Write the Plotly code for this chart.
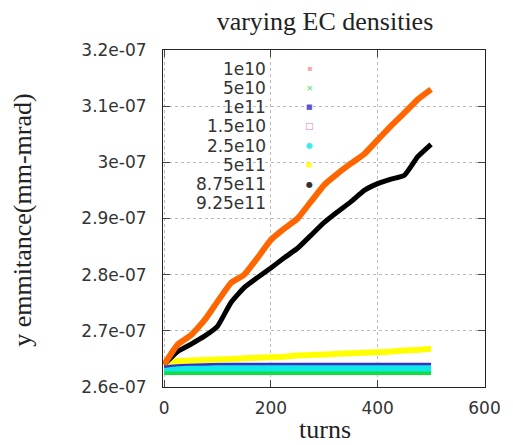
import plotly.graph_objects as go

turns = [0, 25, 50, 75, 100, 125, 150, 175, 200, 225, 250, 275, 300, 325, 350, 375, 400, 425, 450, 475, 500]

# values in units of 1e-07
e_1e10 = [2.634, 2.634, 2.634, 2.634, 2.634, 2.634, 2.634, 2.634, 2.634, 2.634, 2.634, 2.634, 2.634, 2.634, 2.634, 2.634, 2.634, 2.634, 2.634, 2.634, 2.634]
e_5e10 = [2.626, 2.626, 2.626, 2.626, 2.626, 2.626, 2.626, 2.626, 2.626, 2.626, 2.626, 2.626, 2.626, 2.626, 2.626, 2.626, 2.626, 2.626, 2.626, 2.626, 2.626]
e_1e11 = [2.636, 2.639, 2.640, 2.640, 2.641, 2.641, 2.641, 2.641, 2.641, 2.641, 2.641, 2.641, 2.641, 2.641, 2.641, 2.641, 2.641, 2.641, 2.641, 2.641, 2.641]
e_1_5e10 = [2.634, 2.634, 2.634, 2.634, 2.634, 2.634, 2.634, 2.634, 2.634, 2.634, 2.634, 2.634, 2.634, 2.634, 2.634, 2.634, 2.634, 2.634, 2.634, 2.634, 2.634]
e_2_5e10 = [2.634, 2.634, 2.634, 2.634, 2.634, 2.634, 2.634, 2.634, 2.634, 2.634, 2.634, 2.634, 2.634, 2.634, 2.634, 2.634, 2.634, 2.634, 2.634, 2.634, 2.634]
e_5e11 = [2.645, 2.646, 2.647, 2.648, 2.649, 2.650, 2.651, 2.652, 2.653, 2.654, 2.656, 2.657, 2.658, 2.659, 2.660, 2.661, 2.662, 2.663, 2.665, 2.666, 2.668]
e_8_75e11 = [2.640, 2.663, 2.676, 2.690, 2.708, 2.750, 2.777, 2.795, 2.812, 2.830, 2.847, 2.870, 2.893, 2.912, 2.930, 2.950, 2.962, 2.970, 2.977, 3.010, 3.032]
e_9_25e11 = [2.640, 2.675, 2.692, 2.718, 2.752, 2.785, 2.800, 2.830, 2.862, 2.882, 2.900, 2.930, 2.960, 2.980, 2.998, 3.015, 3.040, 3.065, 3.088, 3.112, 3.130]

labels = ["1e10", "5e10", "1e11", "1.5e10", "2.5e10", "5e11", "8.75e11", "9.25e11"]
colors = ["#ff9090", "#10dd40", "#3a30c8", "#cc55cc", "#10e8e8", "#ffff00", "#000000", "#ff6600"]
symbols = ["▪", "×", "■", "□", "●", "●", "●", ""]
sym_sizes = [8, 9, 7, 9, 8, 8, 8, 8]
values = [e_1e10, e_5e10, e_1e11, e_1_5e10, e_2_5e10, e_5e11, e_8_75e11, e_9_25e11]
widths = [5, 5, 2.5, 5, 7, 6, 5, 6]
draw_order = [0, 3, 1, 4, 2, 5, 6, 7]

fig = go.Figure()
for i in draw_order:
    fig.add_trace(go.Scatter(
        x=turns, y=[v * 1e-7 for v in values[i]], mode="lines", name=labels[i],
        line=dict(color=colors[i], width=widths[i], shape="spline", smoothing=0.4), showlegend=False,
    ))

serif = dict(family="Liberation Serif", size=26, color="#222222")
annotations = []
row_top = 0.945
row_step = 0.0572
for i, (lab, c, s, sz) in enumerate(zip(labels, colors, symbols, sym_sizes)):
    yy = row_top - i * row_step
    annotations.append(dict(
        xref="paper", yref="paper", x=0.327, y=yy, text=lab, showarrow=False,
        xanchor="right", yanchor="middle",
        font=dict(family="DejaVu Sans", size=17, color="#333333"),
    ))
    if s:
        annotations.append(dict(
            xref="paper", yref="paper", x=0.455, y=yy, text=s, showarrow=False,
            xanchor="center", yanchor="middle", opacity=0.8,
            font=dict(family="DejaVu Sans", size=sz, color=c),
        ))

annotations.append(dict(
    xref="paper", yref="paper", x=-0.435, y=0.496, text="y emmitance(mm-mrad)", textangle=-90,
    showarrow=False, xanchor="center", yanchor="middle", font=serif,
))
annotations.append(dict(
    xref="paper", yref="paper", x=0.503, y=-0.125, text="turns",
    showarrow=False, xanchor="center", yanchor="middle", font=serif,
))

axis_common = dict(
    ticks="inside", ticklen=7, mirror="allticks", showline=True, linecolor="#222222", linewidth=1,
    showgrid=True, gridcolor="#bbbbbb", griddash="dot", gridwidth=1, zeroline=False,
    tickfont=dict(family="DejaVu Sans", size=17, color="#333333"),
)

fig.update_layout(
    width=513, height=445,
    margin=dict(l=163, r=24, t=50, b=58),
    paper_bgcolor="white", plot_bgcolor="white",
    title=dict(text="varying EC densities", xref="paper", x=0.503, xanchor="center",
               y=0.953, yanchor="middle", font=serif),
    xaxis=dict(
        range=[-2, 601], tickvals=[0, 200, 400, 600], ticktext=["0", "200", "400", "600"],
        ticklabelstandoff=6, **axis_common,
    ),
    yaxis=dict(
        range=[2.6e-7, 3.2e-7],
        tickvals=[2.6e-7, 2.7e-7, 2.8e-7, 2.9e-7, 3.0e-7, 3.1e-7, 3.2e-7],
        ticktext=["2.6e-07", "2.7e-07", "2.8e-07", "2.9e-07", "3e-07", "3.1e-07", "3.2e-07"],
        ticklabelstandoff=12, **axis_common,
    ),
    annotations=annotations,
)

fig.write_html("out.html")
